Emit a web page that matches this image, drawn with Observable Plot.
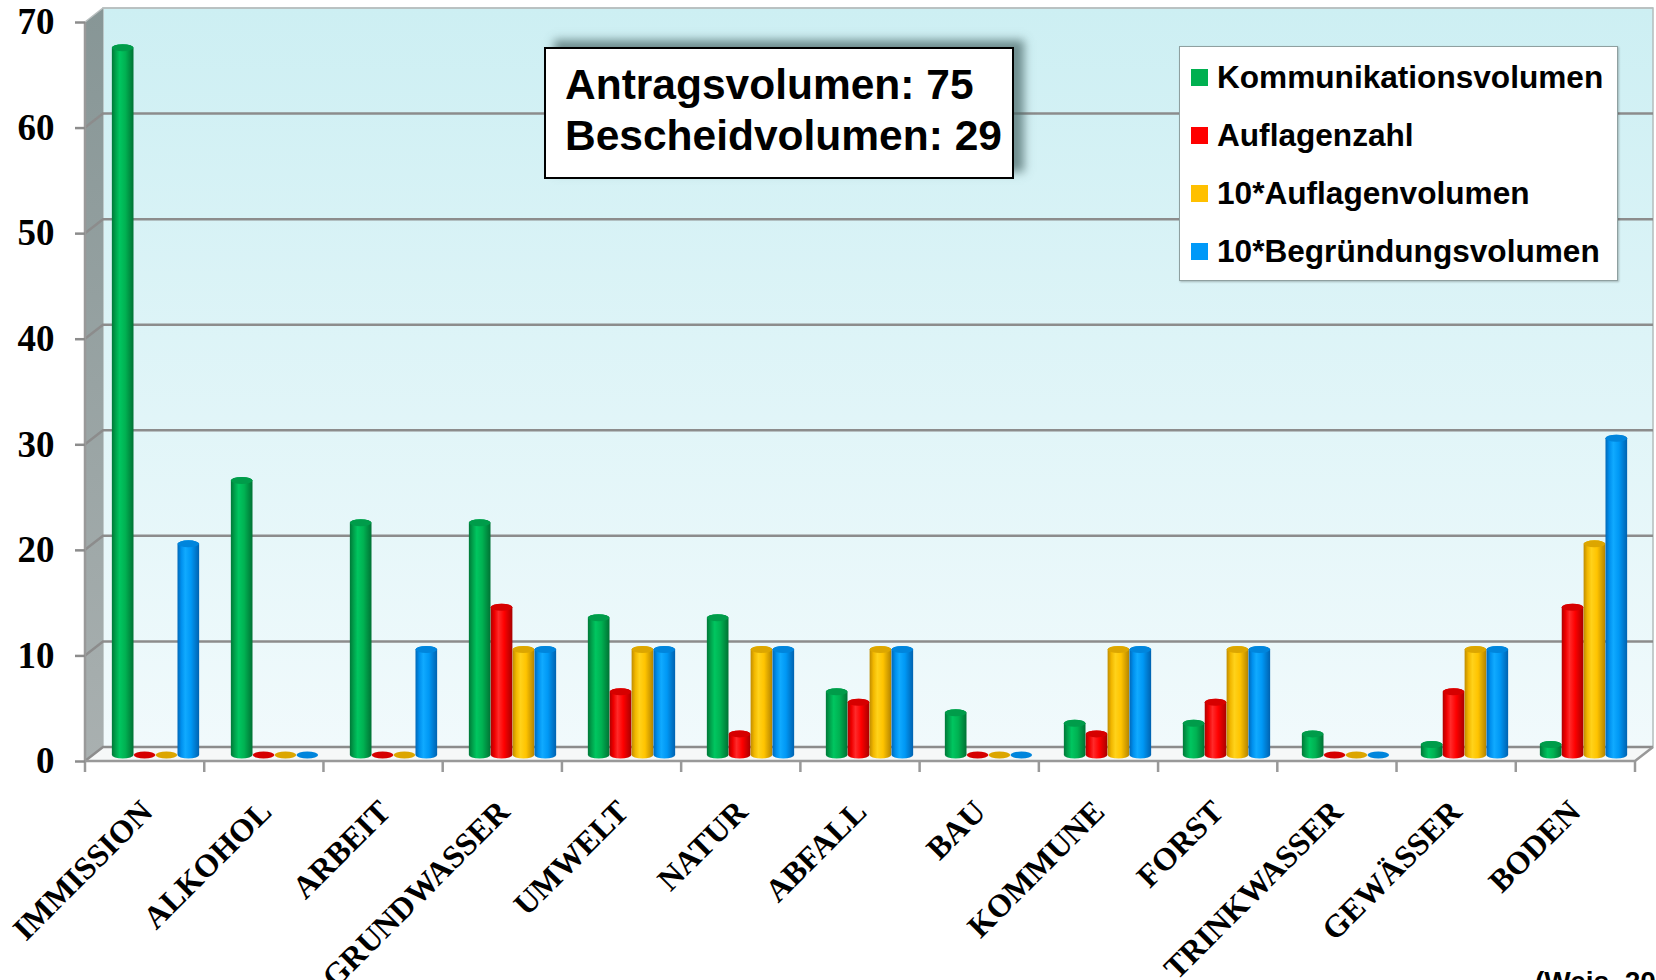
<!DOCTYPE html>
<html><head><meta charset="utf-8">
<script src="https://cdn.jsdelivr.net/npm/d3@7"></script>
<script src="https://cdn.jsdelivr.net/npm/@observablehq/plot@0.6"></script>
<style>
html,body{margin:0;padding:0;background:#fff;}
#wrap{position:relative;width:1656px;height:980px;overflow:hidden;}
#note{position:absolute;left:544px;top:47px;width:470px;height:132px;box-sizing:border-box;border:2px solid #000;background:#fff;box-shadow:10px -7px 9px rgba(70,100,100,0.7);font:bold 42.5px 'Liberation Sans',Arial,sans-serif;line-height:51px;padding:10px 0 0 19px;white-space:nowrap;}
#legend{position:absolute;left:1179px;top:46px;width:439px;height:235px;box-sizing:border-box;border:1.5px solid #8fa0a0;background:#fff;box-shadow:1px 1px 2px rgba(0,0,0,0.25);font:bold 31.6px 'Liberation Sans',Arial,sans-serif;}
.item{position:absolute;left:11px;height:58px;line-height:58px;white-space:nowrap;}
.sw{display:inline-block;width:17px;height:17px;margin-right:9px;vertical-align:middle;position:relative;top:-2px;}
#cap{position:absolute;left:1535px;top:968px;font:bold 28px 'Liberation Sans',Arial,sans-serif;line-height:28px;white-space:nowrap;}
</style></head>
<body>
<div id="wrap">
  <div id="chart"></div>
  <div id="note"></div>
  <div id="legend"></div>
  <div id="cap"></div>
</div>
<script>
// ---- data ----
const categories = ["IMMISSION","ALKOHOL","ARBEIT","GRUNDWASSER","UMWELT","NATUR","ABFALL","BAU","KOMMUNE","FORST","TRINKWASSER","GEWÄSSER","BODEN"];
const kommunikationsvolumen = [67,26,22,22,13,13,6,4,3,3,2,1,1];
const auflagenzahl          = [0,0,0,14,6,2,5,0,2,5,0,6,14];
const auflagenvolumen10     = [0,0,0,10,10,10,10,0,10,10,0,10,20];
const begruendungsvolumen10 = [20,0,10,10,10,10,10,0,10,10,0,10,30];
const seriesNames = ["Kommunikationsvolumen","Auflagenzahl","10*Auflagenvolumen","10*Begründungsvolumen"];
const seriesColors = ["#00b050","#ff0000","#ffc000","#0099f8"];
const yTicks = [0,10,20,30,40,50,60,70];
const noteLines = ["Antragsvolumen: 75","Bescheidvolumen: 29"];
const captionText = "(Weis, 2009)";

// ---- styles ----
const seriesValues = [kommunikationsvolumen, auflagenzahl, auflagenvolumen10, begruendungsvolumen10];
const capColors = ["#009c4a","#d60000","#dca600","#0085dc"];
const gradStops = [
  ["#007838","#00a24c","#00c660","#00b252","#007234"],
  ["#b00000","#f00000","#ff2a2a","#ff0000","#a80000"],
  ["#c08c00","#f2b800","#ffd21a","#ffc400","#b48400"],
  ["#0068b8","#0090ee","#10aaff","#0098f5","#0062b0"]
];
const stopOffsets = [0, 0.18, 0.36, 0.62, 1];

const W = 1656, H = 980, mL = 85, mR = 21, mT = 22, mB = 219;
const depthX = 18, depthY = 14;
const bw = (W - mL - mR) / categories.length;
const barW = bw * 0.1835;
const start = bw / 2 - 2 * barW;

const marks = [];
seriesValues.forEach((vals, k) => {
  const data = categories.map((c, i) => ({category: c, value: vals[i]}));
  const common = {
    x: "category",
    insetLeft: start + k * barW,
    insetRight: bw - start - (k + 1) * barW,
    insetTop: -3.5, insetBottom: -3.5,
    dx: depthX / 2, dy: -6,
    rx: barW / 2, ry: 3.5
  };
  marks.push(Plot.barY(data.filter(d => d.value > 0), {...common, y1: () => 0, y2: "value", fill: `url(#cyl${k})`}));
  marks.push(Plot.barY(data, {...common, y1: "value", y2: "value", fill: capColors[k]}));
});
marks.push(Plot.text(categories, {
  x: d => d, y: () => 0, text: d => d, rotate: -45, textAnchor: "end",
  dx: 0, dy: 45, fontSize: 32, fontWeight: "bold",
  fontFamily: "'Liberation Serif','Times New Roman',serif", fill: "#000"
}));

const chart = Plot.plot({
  width: W, height: H,
  marginLeft: mL, marginRight: mR, marginTop: mT, marginBottom: mB,
  x: {domain: categories, axis: null, padding: 0},
  y: {domain: [0, 70], ticks: yTicks.length - 1, tickSize: 10, tickPadding: 21, label: null},
  style: {fontFamily: "'Liberation Serif','Times New Roman',serif", fontSize: "37px", fontWeight: "bold", background: "white", color: "black"},
  marks
});
document.getElementById("chart").appendChild(chart);

// ---- 3D frame decoration drawn from the plot's scales ----
const svg = d3.select(chart);
const xs = chart.scale("x"), ys = chart.scale("y");
const x = d3.scaleBand().domain(xs.domain).range(xs.range).paddingInner(0).paddingOuter(0);
const y = d3.scaleLinear().domain(ys.domain).range(ys.range);
const X0 = x.range()[0], X1 = x.range()[1];
const Y0 = y(0), Ytop = y(70);

const bg = svg.insert("g", ":first-child");
const defs = svg.insert("defs", ":first-child");
gradStops.forEach((stops, k) => {
  const g = defs.append("linearGradient").attr("id", `cyl${k}`).attr("x1", 0).attr("x2", 1).attr("y1", 0).attr("y2", 0);
  stops.forEach((c, j) => g.append("stop").attr("offset", stopOffsets[j]).attr("stop-color", c));
});
const wallG = defs.append("linearGradient").attr("id", "wall").attr("x1", 0).attr("x2", 0).attr("y1", 0).attr("y2", 1);
wallG.append("stop").attr("offset", 0).attr("stop-color", "#cdeff3");
wallG.append("stop").attr("offset", 1).attr("stop-color", "#f1fafc");
const sideG = defs.append("linearGradient").attr("id", "side").attr("x1", 0).attr("x2", 0).attr("y1", 0).attr("y2", 1);
sideG.append("stop").attr("offset", 0).attr("stop-color", "#879696");
sideG.append("stop").attr("offset", 1).attr("stop-color", "#a9b0b0");

// back wall
bg.append("rect").attr("x", X0 + depthX).attr("y", Ytop - depthY)
  .attr("width", X1 - X0).attr("height", Y0 - Ytop)
  .attr("fill", "url(#wall)").attr("stroke", "#b4bcbc").attr("stroke-width", 1.5);
// left side wall
bg.append("path").attr("d", `M${X0},${Ytop}L${X0+depthX},${Ytop-depthY}L${X0+depthX},${Y0-depthY}L${X0},${Y0}Z`)
  .attr("fill", "url(#side)");
// floor
bg.append("path").attr("d", `M${X0},${Y0}L${X0+depthX},${Y0-depthY}L${X1+depthX},${Y0-depthY}L${X1},${Y0}Z`)
  .attr("fill", "#f6f8f8");
// gridlines
yTicks.forEach(v => {
  const c = v === 70 ? "#b8bebe" : "#8c8c8c";
  bg.append("path").attr("d", `M${X0},${y(v)}L${X0+depthX},${y(v)-depthY}L${X1+depthX},${y(v)-depthY}`)
    .attr("fill", "none").attr("stroke", c).attr("stroke-width", v === 70 ? 1.5 : 2.5);
});
// front edges
bg.append("path").attr("d", `M${X0},${Ytop}L${X0},${Y0}L${X1},${Y0}L${X1+depthX},${Y0-depthY}`)
  .attr("fill", "none").attr("stroke", "#999").attr("stroke-width", 2.5);
// category ticks at band edges
const edges = categories.map(c => x(c)).concat([X1]);
edges.forEach(e => {
  bg.append("line").attr("x1", e).attr("x2", e).attr("y1", Y0).attr("y2", Y0 + 11)
    .attr("stroke", "#999").attr("stroke-width", 2.5);
});
// y axis tick colour
svg.selectAll('[aria-label^="y-axis"] line, [aria-label^="y-axis"] path').attr("stroke", "#8c8c8c").attr("stroke-width", 2.5);
svg.selectAll('[aria-label^="y-axis"] text').attr("fill", "#000");

// ---- legend, note, caption ----
const legend = d3.select("#legend");
seriesNames.forEach((n, k) => {
  const it = legend.append("div").attr("class", "item").style("top", `${1 + 58 * k}px`);
  it.append("span").attr("class", "sw").style("background", seriesColors[k]);
  it.append("span").text(n);
});
d3.select("#note").html(noteLines.join("<br>"));
d3.select("#cap").text(captionText);
</script>
</body></html>
